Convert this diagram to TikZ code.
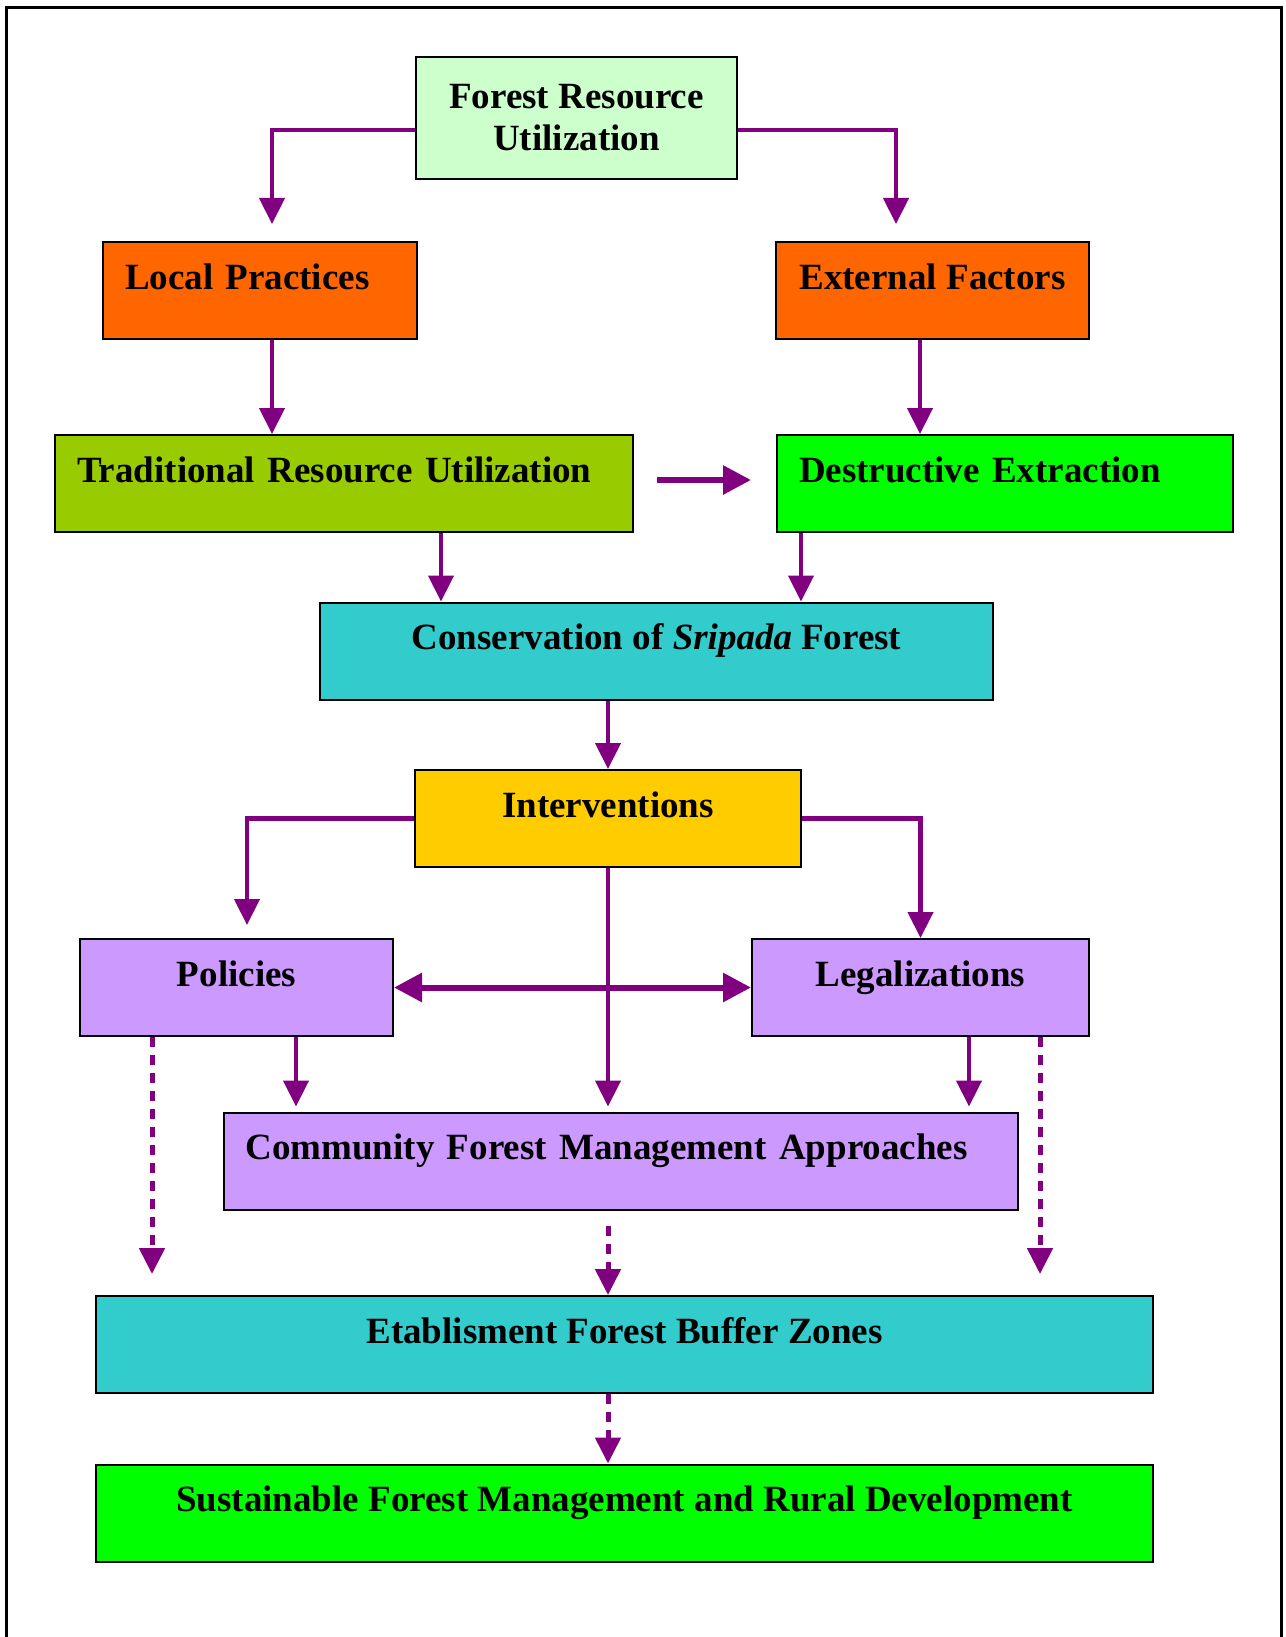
\documentclass[tikz,border=0pt]{standalone}
\usepackage{fontspec}
\setmainfont{Liberation Serif}
\usetikzlibrary{arrows.meta}
\definecolor{flow}{HTML}{800080}
\definecolor{paleg}{HTML}{CCFFCC}
\definecolor{orng}{HTML}{FF6600}
\definecolor{olive}{HTML}{99CC00}
\definecolor{lime}{HTML}{00FF00}
\definecolor{teal}{HTML}{33CCCC}
\definecolor{gold}{HTML}{FFCC00}
\definecolor{lilac}{HTML}{CC99FF}

\begin{document}
\begin{tikzpicture}[x=0.5pt, y=-0.5pt,
    every node/.style={font=\fontsize{18.5}{21}\selectfont\bfseries},
    box/.style={draw, line width=1pt, inner ysep=0pt, text height=23.5pt, text depth=25pt},
    lbox/.style={box, align=left, inner xsep=11pt, text width=#1},
    arr/.style={draw=flow, line width=2.2pt, -{Triangle[length=13pt,width=12.5pt]}},
    bigarr/.style={draw=flow, line width=3pt, -{Triangle[length=14pt,width=14pt]}},
    darr/.style={arr, line width=2.5pt, dash pattern=on 5pt off 4pt}]
  \useasboundingbox (0,0) rectangle (1285,1637);
  \draw[line width=1.5pt] (6,1637) -- (6,8) -- (1281,8) -- (1281,1637);
  
  \node[draw, line width=1pt, fill=paleg, minimum width=160.5pt, minimum height=61pt, align=center] (FRU) at (576.5,118) {Forest Resource\\Utilization};
  \node[lbox=135pt, fill=orng] (LP) at (260,290.5) {Local Practices};
  \node[box, fill=orng, minimum width=156.5pt] (EF) at (932.5,290.5) {External Factors};
  \node[lbox=267pt, fill=olive] (TRU) at (344,483.5) {Traditional Resource Utilization};
  \node[lbox=206pt, fill=lime] (DE) at (1005,483.5) {Destructive Extraction};
  \node[box, fill=teal, minimum width=336.5pt] (CON) at (656.5,651) {Conservation of \textit{Sripada} Forest};
  \node[box, fill=gold, minimum width=193pt] (INT) at (608,818.5) {Interventions};
  \node[box, fill=lilac, minimum width=156.5pt] (POL) at (236.5,987.5) {Policies};
  \node[box, fill=lilac, minimum width=168.5pt] (LEG) at (920.5,987.5) {Legalizations};
  \node[lbox=375pt, fill=lilac] (CFM) at (620.5,1161) {Community Forest Management Approaches};
  \node[box, fill=teal, minimum width=528.5pt] (EFB) at (624.5,1344.5) {Etablisment Forest Buffer Zones};
  \node[box, fill=lime, minimum width=528.5pt] (SFM) at (624.5,1513) {Sustainable Forest Management and Rural Development};
  
  \draw[arr] ([yshift=-6pt]FRU.west) -| ([xshift=6pt,yshift=8.5pt]LP.north);
  \draw[arr] ([yshift=-6pt]FRU.east) -| ([xshift=-18.25pt,yshift=8.5pt]EF.north);
  \draw[arr] ([xshift=6pt]LP.south) -- ([xshift=-36pt]TRU.north);
  \draw[arr] ([xshift=-6.25pt]EF.south) -- ([xshift=-42.5pt]DE.north);
  \draw[bigarr] ([xshift=11.5pt,yshift=1.75pt]TRU.east) -- ([xshift=-12.5pt,yshift=1.75pt]DE.west);
  \draw[arr] ([xshift=48.5pt]TRU.south) -- ([xshift=-107.75pt]CON.north);
  \draw[arr] ([xshift=-102pt]DE.south) -- ([xshift=72.25pt]CON.north);
  \draw[arr] ([xshift=-24.25pt]CON.south) -- (INT.north);
  \draw[arr] (INT.west) -| ([xshift=5.25pt,yshift=6.5pt]POL.north);
  \draw[arr] (INT.east) -| (LEG.north);
  \draw[arr] (INT.south) -- ([xshift=-6.25pt,yshift=2.5pt]CFM.north);
  \draw[bigarr, {Triangle[length=14pt,width=14pt]}-{Triangle[length=14pt,width=14pt]}] (POL.east) -- (LEG.west);
  \draw[arr] ([xshift=29.75pt]POL.south) -- ([xshift=-162.25pt,yshift=2.5pt]CFM.north);
  \draw[arr] ([xshift=24.25pt]LEG.south) -- ([xshift=174.25pt,yshift=2.5pt]CFM.north);
  \draw[darr] ([xshift=-42.25pt]POL.south) -- ([xshift=-236.25pt,yshift=10.5pt]EFB.north);
  \draw[darr] ([xshift=59.75pt]LEG.south) -- ([xshift=207.75pt,yshift=10.5pt]EFB.north);
  \draw[darr] ([xshift=-6.25pt,yshift=-7.5pt]CFM.south) -- ([xshift=-8.25pt]EFB.north);
  \draw[darr] ([xshift=-8.25pt]EFB.south) -- ([xshift=-8.25pt]SFM.north);
\end{tikzpicture}
\end{document}
